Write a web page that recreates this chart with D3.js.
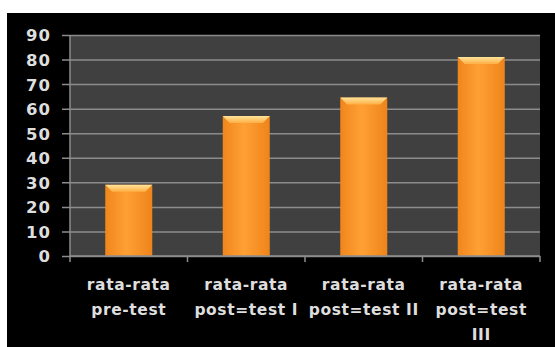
<!DOCTYPE html>
<html>
<head>
<meta charset="utf-8">
<script src="https://cdn.jsdelivr.net/npm/d3@7.9.0/dist/d3.min.js"></script>
<style>
  html, body { margin: 0; padding: 0; background: #fff; }
  svg { display: block; }
  text { font-family: "DejaVu Sans", Verdana, sans-serif; font-weight: bold; }
</style>
</head>
<body>
<svg id="chart" width="555" height="347"></svg>
<script>
// Data
const categories = ['rata-rata pre-test', 'rata-rata post=test I', 'rata-rata post=test II', 'rata-rata post=test III'];
const values = [29, 57, 64.5, 81];
const yTicks = [0, 10, 20, 30, 40, 50, 60, 70, 80, 90];

const width = 555, height = 347;
const margin = { top: 35, right: 15, bottom: 91, left: 70 };

const svg = d3.select('#chart');

// black panel
svg.append('rect')
  .attr('x', 7).attr('y', 13)
  .attr('width', width - 7).attr('height', height - 13)
  .attr('fill', '#000');

const x = d3.scaleBand()
  .domain(categories)
  .range([margin.left, width - margin.right])
  .paddingInner(0.6)
  .paddingOuter(0.3);

const y = d3.scaleLinear()
  .domain([0, 90])
  .range([height - margin.bottom, margin.top]);

// plot area
svg.append('rect')
  .attr('x', margin.left).attr('y', margin.top)
  .attr('width', width - margin.right - margin.left)
  .attr('height', height - margin.bottom - margin.top)
  .attr('fill', '#404040');

// gradients for the bars
const defs = svg.append('defs');
const grad = defs.append('linearGradient').attr('id', 'barGrad')
  .attr('x1', '0%').attr('x2', '100%').attr('y1', '0%').attr('y2', '0%');
grad.append('stop').attr('offset', '0%').attr('stop-color', '#f0861c');
grad.append('stop').attr('offset', '45%').attr('stop-color', '#ffa034');
grad.append('stop').attr('offset', '100%').attr('stop-color', '#ee841a');

const capGrad = defs.append('linearGradient').attr('id', 'capGrad')
  .attr('x1', '0%').attr('x2', '0%').attr('y1', '0%').attr('y2', '100%');
capGrad.append('stop').attr('offset', '0%').attr('stop-color', '#ffe39a');
capGrad.append('stop').attr('offset', '100%').attr('stop-color', '#ffae42');

// y axis with gridlines
const yAxis = d3.axisLeft(y)
  .tickValues(yTicks)
  .tickSize(-(width - margin.right - margin.left) - 8)
  .tickPadding(11);

const yG = svg.append('g')
  .attr('transform', `translate(${margin.left - 8},0)`)
  .call(yAxis);
yG.select('.domain').remove();
yG.selectAll('.tick line').attr('stroke', '#8c8c8c').attr('stroke-width', 1.5);
yG.selectAll('.tick text')
  .attr('fill', '#dedede')
  .attr('font-size', 16.5)
  .attr('letter-spacing', 1)
  .attr('dy', '0.36em');

// vertical axis line
svg.append('line')
  .attr('x1', margin.left).attr('x2', margin.left)
  .attr('y1', margin.top).attr('y2', height - margin.bottom)
  .attr('stroke', '#8c8c8c').attr('stroke-width', 1.5);

// bars
const bars = svg.append('g').selectAll('g')
  .data(values)
  .join('g');

bars.append('rect')
  .attr('x', (d, i) => x(categories[i]))
  .attr('y', d => y(d))
  .attr('width', x.bandwidth())
  .attr('height', d => y(0) - y(d))
  .attr('fill', 'url(#barGrad)');

const bevel = 7;
bars.append('path')
  .attr('d', (d, i) => {
    const x0 = x(categories[i]), x1 = x0 + x.bandwidth(), t = y(d);
    return `M${x0},${t}L${x1},${t}L${x1 - bevel},${t + bevel}L${x0 + bevel},${t + bevel}Z`;
  })
  .attr('fill', 'url(#capGrad)');

// x axis
const xG = svg.append('g')
  .attr('transform', `translate(0,${height - margin.bottom})`);

xG.append('line')
  .attr('x1', margin.left).attr('x2', width - margin.right)
  .attr('stroke', '#8c8c8c').attr('stroke-width', 1.5);

const bounds = d3.range(categories.length + 1)
  .map(i => margin.left + i * (width - margin.right - margin.left) / categories.length);
xG.selectAll('.xtick')
  .data(bounds)
  .join('line')
  .attr('class', 'xtick')
  .attr('x1', d => d).attr('x2', d => d)
  .attr('y1', 0).attr('y2', 6)
  .attr('stroke', '#8c8c8c').attr('stroke-width', 1.5);

const labelW = 113;
const labels = xG.selectAll('.xlabel')
  .data(categories)
  .join('text')
  .attr('class', 'xlabel')
  .attr('text-anchor', 'middle')
  .attr('fill', '#dedede')
  .attr('font-size', 15.5)
  .attr('letter-spacing', 0.6)
  .attr('y', 34)
  .text(d => d);

// wrap labels to the band width
labels.each(function(d) {
  const text = d3.select(this);
  const cx = x(d) + x.bandwidth() / 2;
  const words = d.split(/\s+/);
  text.text(null);
  let line = [];
  let tspan = text.append('tspan').attr('x', cx).attr('dy', 0);
  for (const w of words) {
    line.push(w);
    tspan.text(line.join(' '));
    if (tspan.node().getComputedTextLength() > labelW && line.length > 1) {
      line.pop();
      tspan.text(line.join(' '));
      line = [w];
      tspan = text.append('tspan').attr('x', cx).attr('dy', 25).text(w);
    }
  }
});
</script>
</body>
</html>
